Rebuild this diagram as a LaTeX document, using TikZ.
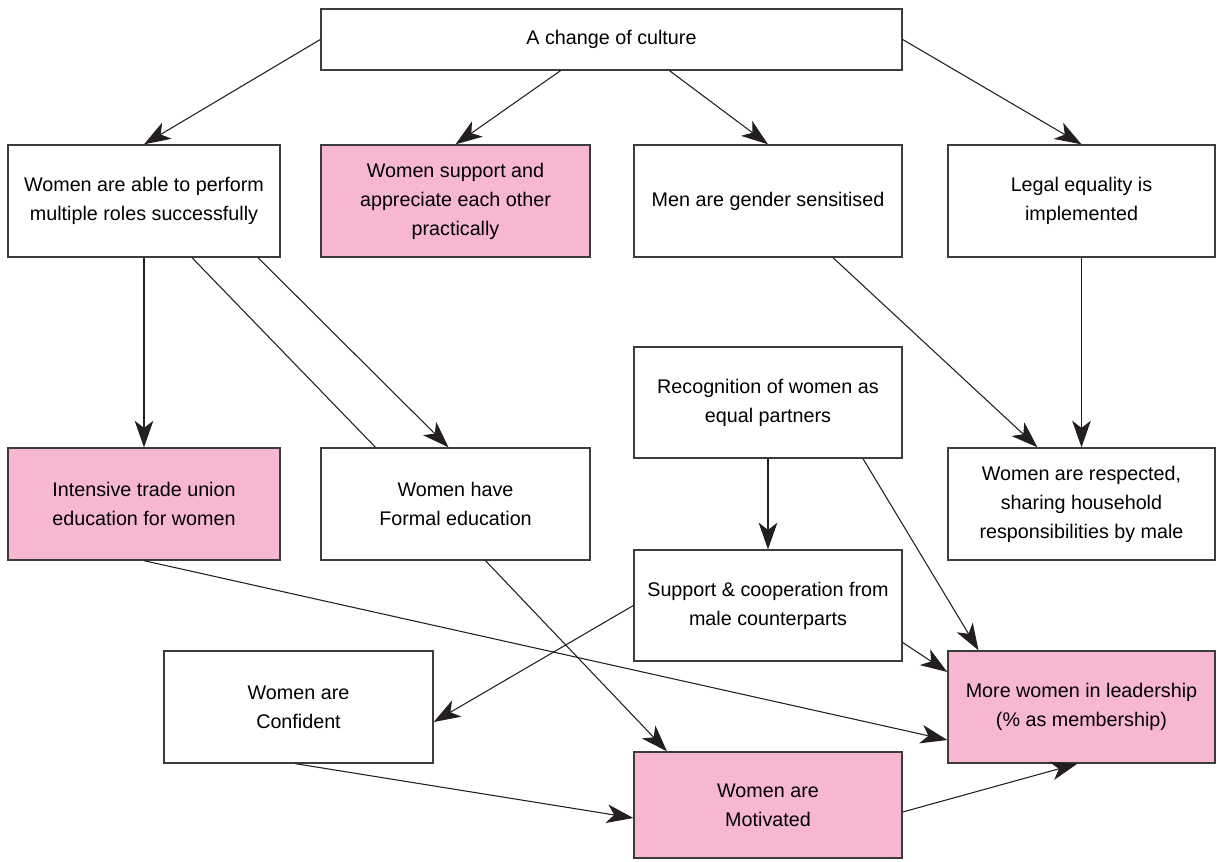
\documentclass[tikz,border=0pt]{standalone}
\usepackage{fontspec}
\setmainfont{Liberation Sans}
\usetikzlibrary{arrows.meta,calc}
\definecolor{boxpink}{RGB}{247,182,210}
\definecolor{linedark}{RGB}{35,31,32}
\definecolor{boxline}{RGB}{60,60,60}
\tikzset{
  box/.style={draw=boxline, line width=1pt, fill=white, align=center,
    font=\fontsize{14.8}{21.8}\selectfont, inner sep=0pt, minimum width=268*0.75pt, minimum height=112*0.75pt},
  pinkbox/.style={box, fill=boxpink},
  conn/.style={draw=linedark, line width=0.8pt, -{Stealth[length=20pt,width=14pt,inset=5.5pt]}},
  plain/.style={draw=linedark, line width=0.8pt}
}
\begin{document}
\begin{tikzpicture}[x=0.75pt,y=-0.75pt]
\useasboundingbox (0,0) rectangle (1217,861);
\node[box, minimum width=581*0.75pt, minimum height=61*0.75pt] (cult) at (611.5,39.5) {A change of culture};
\node[box, minimum width=272*0.75pt] (multi) at (144,201) {Women are able to perform\\multiple roles successfully};
\node[pinkbox, minimum width=269*0.75pt] (support) at (455.5,201) {Women support and\\appreciate each other\\practically};
\node[box] (men) at (768,201) {Men are gender sensitised};
\node[box, minimum width=267*0.75pt] (legal) at (1081.5,201) {Legal equality is\\implemented};
\node[box, minimum height=111*0.75pt] (recog) at (768,402.5) {Recognition of women as\\equal partners};
\node[pinkbox, minimum width=272*0.75pt] (tu) at (144,504) {Intensive trade union\\education for women};
\node[box, minimum width=269*0.75pt] (formal) at (455.5,504) {Women have\\Formal education};
\node[box, minimum width=267*0.75pt] (respect) at (1081.5,504) {Women are respected,\\sharing household\\responsibilities by male};
\node[box, minimum height=111*0.75pt] (coop) at (768,605.5) {Support \& cooperation from\\male counterparts};
\node[box, minimum width=269*0.75pt] (conf) at (298.5,707) {Women are\\Confident};
\node[pinkbox, minimum width=267*0.75pt] (lead) at (1081.5,707) {More women in leadership\\(\% as membership)};
\node[pinkbox, minimum height=106*0.75pt] (motiv) at (768,805) {Women are\\Motivated};

\draw[conn] (cult.west) -- (multi.north);
\draw[conn] ($(cult.south)+(-51,0)$) -- (support.north);
\draw[conn] ($(cult.south)+(58,0)$) -- (men.north);
\draw[conn] (cult.east) -- (legal.north);
\draw[conn] (multi.south) -- (tu.north);
\draw[conn] ($(multi.south)+(114,0)$) -- ($(formal.north)+(-7,0)$);
\draw[plain] ($(multi.south)+(48,0)$) -- ($(formal.north)+(-80,0)$);
\draw[conn] ($(men.south)+(65,0)$) -- ($(respect.north)+(-44,0)$);
\draw[conn] (legal.south) -- (respect.north);
\draw[conn] (recog.south) -- (coop.north);
\draw[conn] ($(recog.south)+(95,0)$) -- ($(lead.north)+(-103,0)$);
\draw[conn] (tu.south) -- ($(lead.west)+(0,33)$);
\draw[conn] ($(formal.south)+(30,0)$) -- ($(motiv.north)+(-101,0)$);
\draw[conn] (coop.west) -- ($(conf.east)+(0,15)$);
\draw[conn] ($(coop.east)+(0,37)$) -- ($(lead.west)+(0,-35)$);
\draw[conn] ($(conf.south)+(-3,0)$) -- ($(motiv.west)+(0,13)$);
\draw[conn] ($(motiv.east)+(0,7)$) -- ($(lead.south)+(-4,0)$);
\end{tikzpicture}
\end{document}
